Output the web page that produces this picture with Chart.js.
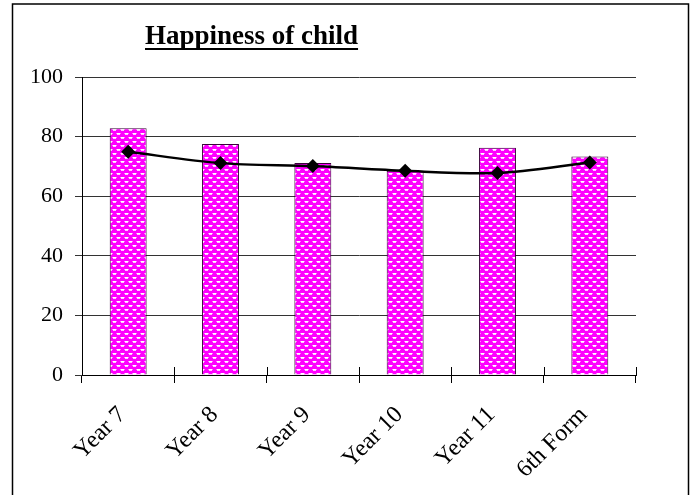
<!DOCTYPE html>
<html>
<head>
<meta charset="utf-8">
<script src="https://cdn.jsdelivr.net/npm/chart.js@4.4.1/dist/chart.umd.min.js"></script>
<style>
  html, body { margin: 0; padding: 0; background: #fff; }
  canvas { display: block; }
</style>
</head>
<body>
<canvas id="chart" width="696" height="495"></canvas>
<script>
// Survey data: happiness score by school year
const categories = ['Year 7', 'Year 8', 'Year 9', 'Year 10', 'Year 11', '6th Form'];
const barValues = [82.8, 77.5, 71.1, 68.5, 76.3, 73.3];
const lineValues = [74.9, 71.1, 70.1, 68.5, 67.8, 71.3];
const yTicks = [0, 20, 40, 60, 80, 100];
const chartTitle = 'Happiness of child';

const FONT = '"Liberation Serif", "Times New Roman", serif';

// Magenta fill with small light dashes, like a classic spreadsheet pattern
function makePattern() {
  const c = document.createElement('canvas');
  c.width = 8; c.height = 8;
  const g = c.getContext('2d');
  g.fillStyle = '#ff00ff';
  g.fillRect(0, 0, 8, 8);
  g.fillStyle = '#ff80ff';
  g.fillRect(0, 1, 5, 1);
  g.fillRect(4, 5, 5, 1);
  g.fillRect(0, 5, 1, 1);
  g.fillStyle = '#ffc8ff';
  g.fillRect(1, 2, 3, 1);
  g.fillRect(5, 6, 3, 1);
  g.fillStyle = '#ffffff';
  g.fillRect(1, 1, 3, 1);
  g.fillRect(5, 5, 3, 1);
  return g.createPattern(c, 'repeat');
}

// Outer frame, underlined title and crossing category ticks
const decorations = {
  id: 'decorations',
  afterDraw(chart) {
    const ctx = chart.ctx;
    const x = chart.scales.x;
    ctx.save();
    // frame
    ctx.strokeStyle = '#000';
    ctx.lineWidth = 1.5;
    ctx.beginPath();
    ctx.moveTo(12.5, 495);
    ctx.lineTo(12.5, 4);
    ctx.lineTo(688.5, 4);
    ctx.lineTo(688.5, 495);
    ctx.stroke();

    // title
    ctx.font = 'bold 27px ' + FONT;
    ctx.fillStyle = '#000';
    ctx.textAlign = 'left';
    ctx.textBaseline = 'alphabetic';
    const tx = 145, ty = 44;
    ctx.fillText(chartTitle, tx, ty);
    const w = ctx.measureText(chartTitle).width;
    ctx.fillRect(tx, ty + 4, w, 2);

    // inner half of the category tick marks
    const n = categories.length;
    const step = x.getPixelForValue(1) - x.getPixelForValue(0);
    ctx.strokeStyle = '#000';
    ctx.lineWidth = 1;
    ctx.beginPath();
    for (let i = 0; i <= n; i++) {
      const px = Math.round(x.getPixelForValue(0) - step / 2 + i * step) + 0.5;
      ctx.moveTo(px, x.top - 8);
      ctx.lineTo(px, x.top);
    }
    ctx.stroke();
    ctx.restore();
  }
};

new Chart(document.getElementById('chart'), {
  data: {
    labels: categories,
    datasets: [
      {
        type: 'line',
        data: lineValues,
        order: 0,
        borderColor: '#000',
        borderWidth: 2.5,
        tension: 0.3,
        pointStyle: 'rectRot',
        pointRadius: 7,
        pointBackgroundColor: '#000',
        pointBorderColor: '#000',
        pointBorderWidth: 0
      },
      {
        type: 'bar',
        data: barValues,
        order: 1,
        backgroundColor: makePattern(),
        borderColor: '#3a003a',
        borderWidth: 1,
        categoryPercentage: 1,
        barPercentage: 0.4
      }
    ]
  },
  options: {
    responsive: false,
    animation: false,
    layout: { padding: { top: 77, right: 60, left: 0, bottom: 0 } },
    plugins: { legend: { display: false }, tooltip: { enabled: false }, title: { display: false } },
    scales: {
      x: {
        offset: true,
        grid: {
          display: true,
          offset: true,
          drawOnChartArea: false,
          drawTicks: true,
          tickLength: 8,
          color: '#000'
        },
        border: { display: true, color: '#000', width: 1 },
        ticks: {
          minRotation: 45,
          maxRotation: 45,
          autoSkip: false,
          padding: 18,
          labelOffset: -6,
          color: '#000',
          font: { family: FONT, size: 24 }
        },
        afterFit(scale) { scale.height = 120; }
      },
      y: {
        min: 0,
        max: 100,
        afterBuildTicks(scale) { scale.ticks = yTicks.map(v => ({ value: v })); },
        grid: {
          color: '#333',
          lineWidth: 1,
          drawTicks: true,
          tickLength: 7
        },
        border: { display: true, color: '#000', width: 1 },
        ticks: {
          padding: 12,
          color: '#000',
          font: { family: FONT, size: 22 }
        },
        afterFit(scale) { scale.width = 82; }
      }
    }
  },
  plugins: [decorations]
});
</script>
</body>
</html>
